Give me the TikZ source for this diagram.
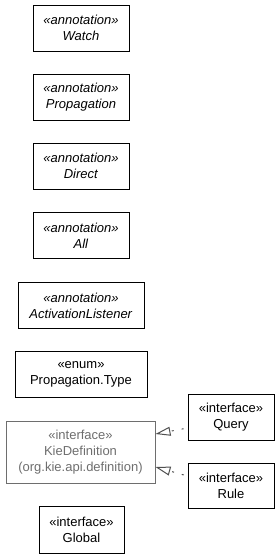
\documentclass[tikz,border=0pt]{standalone}
\usepackage{fontspec}
\setmainfont{Liberation Sans}
\usetikzlibrary{arrows.meta}
\definecolor{ink}{HTML}{000000}
\definecolor{muted}{HTML}{6E6E6E}
\definecolor{edge}{HTML}{505050}

\begin{document}
\begin{tikzpicture}[x=1pt,y=-1pt,>=Stealth,
  font=\fontsize{13}{16}\selectfont,
  umlbox/.style={draw=ink,line width=1pt,align=center,inner sep=0pt,minimum height=46pt},
  extbox/.style={umlbox,draw=muted,text=muted},
  realizes/.style={draw=edge,line width=1pt,dash pattern=on 2pt off 8pt,dash phase=6pt,
    -{Triangle[open,length=15pt,width=9pt]}}]
  \useasboundingbox (0,0) rectangle (280,557);
  % annotations
  \node[umlbox,minimum width=96pt] (watch) at (81,28) {\textit{«annotation»}\\\textit{Watch}};
  \node[umlbox,minimum width=96pt] (propagation) at (81,97) {\textit{«annotation»}\\\textit{Propagation}};
  \node[umlbox,minimum width=96pt] (direct) at (81,166) {\textit{«annotation»}\\\textit{Direct}};
  \node[umlbox,minimum width=96pt] (all) at (81,235.5) {\textit{«annotation»}\\\textit{All}};
  \node[umlbox,minimum width=126pt] (activation) at (81,305.5) {\textit{«annotation»}\\\textit{ActivationListener}};
  \node[umlbox,minimum width=132pt] (proptype) at (81,374.5) {«enum»\\Propagation.Type};
  % interfaces
  \node[extbox,minimum width=149pt,minimum height=62pt] (kiedef) at (80.5,452)
    {«interface»\\KieDefinition\\(org.kie.api.definition)};
  \node[umlbox,minimum width=86pt] (query) at (231,417) {«interface»\\Query};
  \node[umlbox,minimum width=86pt,minimum height=45pt] (rule) at (231,485.5) {«interface»\\Rule};
  \node[umlbox,minimum width=85pt,minimum height=47pt] (global) at (81.5,529.5) {«interface»\\Global};
  \draw[realizes] ([yshift=-11pt]query.west) -- ([yshift=18pt]kiedef.east);
  \draw[realizes] ([yshift=9.5pt]rule.west) -- ([yshift=-15pt]kiedef.east);
\end{tikzpicture}
\end{document}
